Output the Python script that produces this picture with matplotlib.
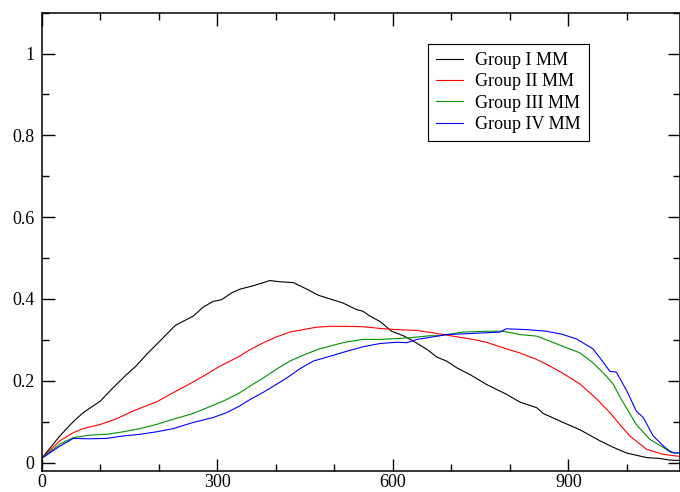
import matplotlib
matplotlib.use("Agg")
import matplotlib.pyplot as plt
from matplotlib.ticker import MultipleLocator

# valores
x1 = [0, 31, 54, 71, 100, 122, 145, 162, 179, 202, 228, 248, 259, 276, 293, 307, 325, 339, 361, 390, 407, 430,
      453, 473, 493, 515, 538, 549, 561, 578, 598, 618, 635, 660, 675, 692, 709, 732, 760, 794, 817, 846, 857,
      891, 920, 954, 977, 1000, 1034, 1056, 1073, 1090]
y1 = [0.01, 0.065, 0.10, 0.122, 0.15, 0.183, 0.215, 0.237, 0.264, 0.297, 0.335, 0.35, 0.358, 0.38, 0.394, 0.398,
      0.415, 0.424, 0.432, 0.445, 0.442, 0.44, 0.424, 0.409, 0.40, 0.39, 0.374, 0.37, 0.358, 0.345, 0.321, 0.31,
      0.297, 0.275, 0.258, 0.248, 0.232, 0.215, 0.191, 0.167, 0.148, 0.134, 0.12, 0.098, 0.08, 0.053, 0.037,
      0.023, 0.012, 0.01, 0.006, 0.005]

x2 = [0, 31, 54, 71, 100, 128, 156, 196, 225, 259, 276, 305, 322, 338, 356, 379, 401, 424, 447, 470, 493, 521,
      549, 578, 606, 641, 669, 703, 737, 760, 794, 817, 846, 863, 891, 920, 948, 971, 988, 1005, 1034, 1062, 1090]
y2 = [0.01, 0.053, 0.073, 0.083, 0.093, 0.107, 0.126, 0.148, 0.171, 0.197, 0.211, 0.236, 0.248, 0.26, 0.276,
      0.293, 0.307, 0.319, 0.325, 0.331, 0.333, 0.333, 0.332, 0.328, 0.325, 0.323, 0.317, 0.309, 0.301, 0.294,
      0.278, 0.268, 0.252, 0.24, 0.218, 0.192, 0.156, 0.122, 0.093, 0.065, 0.032, 0.02, 0.015]

x3 = [0, 31, 54, 82, 111, 139, 168, 196, 225, 259, 293, 316, 338, 356, 379, 401, 424, 453, 475, 504, 521, 549,
      578, 606, 635, 663, 680, 720, 760, 789, 817, 846, 868, 891, 920, 942, 965, 977, 988, 1016, 1039, 1062,
      1076, 1090]
y3 = [0.01, 0.045, 0.061, 0.067, 0.069, 0.075, 0.083, 0.093, 0.106, 0.12, 0.14, 0.154, 0.17, 0.187, 0.207,
      0.228, 0.248, 0.266, 0.278, 0.289, 0.295, 0.301, 0.301, 0.303, 0.306, 0.31, 0.31, 0.319, 0.321, 0.321,
      0.313, 0.309, 0.297, 0.284, 0.268, 0.244, 0.211, 0.191, 0.161, 0.093, 0.057, 0.037, 0.024, 0.023]

x4 = [0, 31, 54, 82, 111, 139, 168, 196, 225, 259, 293, 316, 338, 356, 379, 401, 419, 441, 464, 493, 521, 549,
      578, 606, 624, 641, 663, 692, 726, 783, 794, 829, 863, 891, 914, 942, 954, 971, 982, 1000, 1016, 1028,
      1045, 1062, 1073, 1082, 1090]
y4 = [0.01, 0.04, 0.059, 0.058, 0.059, 0.065, 0.069, 0.075, 0.083, 0.098, 0.11, 0.122, 0.138, 0.154, 0.172,
      0.191, 0.207, 0.229, 0.248, 0.26, 0.272, 0.283, 0.291, 0.294, 0.293, 0.301, 0.306, 0.313, 0.315, 0.319,
      0.327, 0.325, 0.321, 0.313, 0.302, 0.278, 0.256, 0.223, 0.221, 0.175, 0.126, 0.11, 0.065, 0.041, 0.028,
      0.023, 0.024]

nombres = ["Group I MM", "Group II MM", "Group III MM", "Group IV MM"]
colores = ["black", "#ff0000", "#009000", "#0000ff"]

plt.rcParams['font.family'] = ['Liberation Serif', 'DejaVu Serif']

fig = plt.figure(figsize=(6.8, 4.92), dpi=100)
ax = fig.add_axes([0.0613, 0.0433, 0.938, 0.9309])

for xs, ys, c, n in zip([x1, x2, x3, x4], [y1, y2, y3, y4], colores, nombres):
    ax.plot(xs, ys, color=c, lw=0.8, label=n)

ax.set_xlim(0, 1090)
ax.set_ylim(-0.02, 1.1)
ax.xaxis.set_major_locator(MultipleLocator(300))
ax.xaxis.set_minor_locator(MultipleLocator(100))
ax.yaxis.set_major_locator(MultipleLocator(0.2))
ax.yaxis.set_minor_locator(MultipleLocator(0.1))
ax.set_yticks([0, 0.2, 0.4, 0.6, 0.8, 1])
ax.set_yticklabels(["0", "0.2", "0.4", "0.6", "0.8", "1"])

ax.tick_params(which='both', direction='in', top=True, right=True, labelsize=13, width=1)
ax.tick_params(which='major', length=9, pad=5)
ax.tick_params(which='minor', length=4.7)
ax.tick_params(axis='x', pad=2.5)
for s in ax.spines.values():
    s.set_linewidth(1.1)

leg = ax.legend(loc='upper left', bbox_to_anchor=(0.606, 0.932), borderaxespad=0, fancybox=False,
                edgecolor='black', framealpha=1, fontsize=13, handlelength=1.45, handletextpad=0.7,
                labelspacing=0.24, borderpad=0.45)
leg.get_frame().set_linewidth(0.8)

plt.savefig("out.png", dpi=100)
